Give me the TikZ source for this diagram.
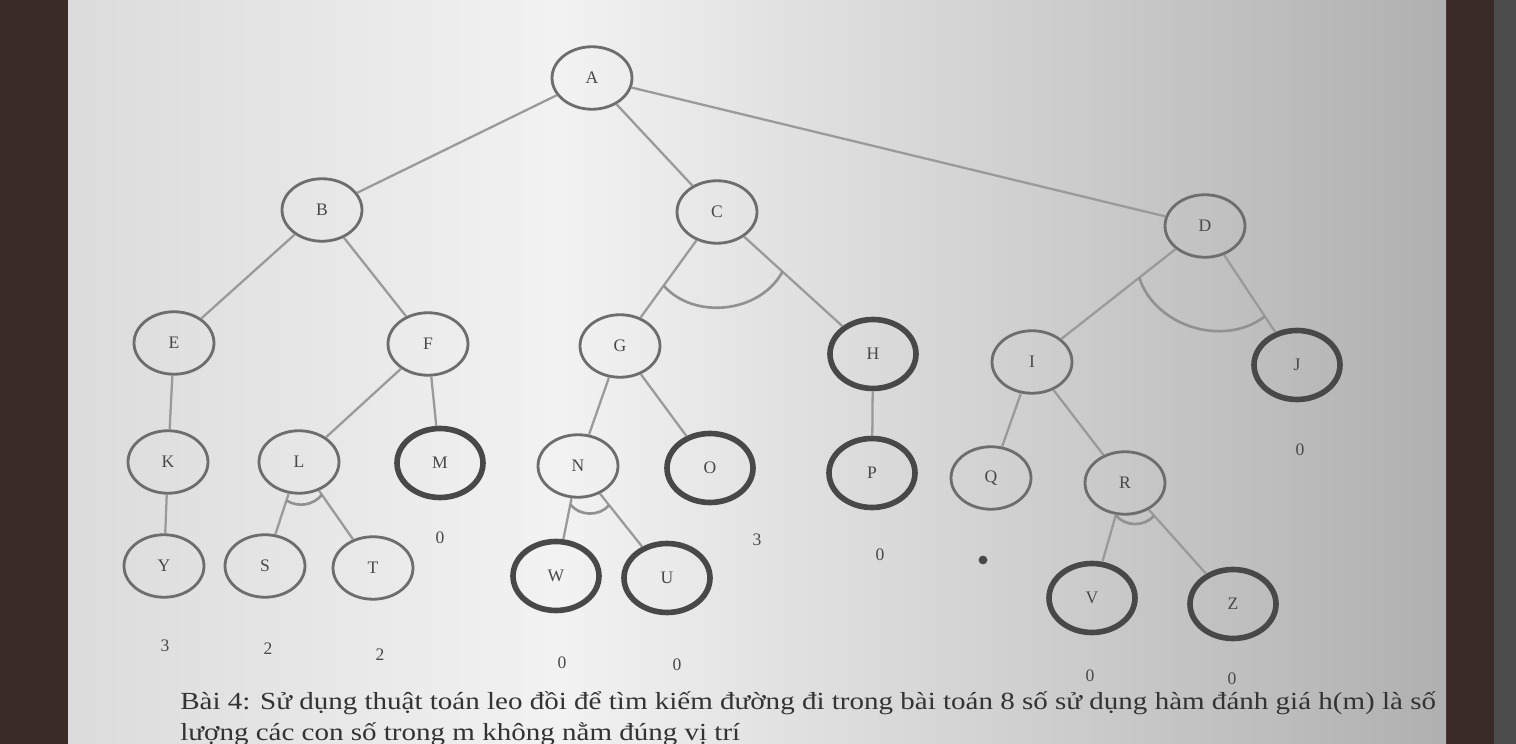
\documentclass[tikz,border=0pt]{standalone}
\usepackage{fontspec}
\setmainfont{Liberation Serif}
\newfontfamily\capfont[FakeStretch=1.18]{Liberation Serif}
\usetikzlibrary{calc,shapes.geometric}
\definecolor{ink}{HTML}{484848}
\definecolor{wood}{HTML}{3A2B26}
\begin{document}
\begin{tikzpicture}[x=0.02cm, y=0.02cm,
    state/.style={ellipse, draw=ink!80, line width=1.6pt, minimum width=1.6cm,
      minimum height=1.25cm, inner sep=0pt, text=ink, font=\normalsize},
    goal/.style={state, draw=ink, line width=3.2pt, minimum width=1.72cm,
      minimum height=1.38cm},
    link/.style={draw=ink!55, line width=1.3pt},
    andarc/.style={draw=ink!60, line width=1.5pt},
    hval/.style={text=ink, font=\normalsize},
    caption/.style={anchor=base west, inner sep=0pt,
      text=black!80, font=\capfont\fontsize{14}{16}\selectfont}]
  % photo background
  \useasboundingbox (0,0) rectangle (1516,744);
  \clip (0,0) rectangle (1516,744);
  \fill[wood] (0,0) rectangle (1516,744);
  \shade[left color=gray!28, right color=gray!10] (68,0) rectangle (560,744);
  \shade[left color=gray!10, right color=gray!62] (560,0) rectangle (1446,744);
  \fill[gray!60!black] (1494,0) rectangle (1516,744);
  % nodes
  \node[state] (A) at (592,666) {A};
  \node[state] (B) at (322,534) {B};
  \node[state] (C) at (717,532) {C};
  \node[state] (D) at (1205,518) {D};
  \node[state] (E) at (174,401) {E};
  \node[state] (F) at (428,400) {F};
  \node[state] (G) at (620,398) {G};
  \node[goal]  (H) at (873,390) {H};
  \node[state] (I) at (1032,382) {I};
  \node[goal]  (J) at (1297,379) {J};
  \node[state] (K) at (168,282) {K};
  \node[state] (L) at (299,282) {L};
  \node[goal]  (M) at (440,281) {M};
  \node[state] (N) at (578,278) {N};
  \node[goal]  (O) at (710,276) {O};
  \node[goal]  (P) at (872,271) {P};
  \node[state] (Q) at (991,266) {Q};
  \node[state] (R) at (1125,261) {R};
  \node[state] (Y) at (164,178) {Y};
  \node[state] (S) at (265,178) {S};
  \node[state] (T) at (373,176) {T};
  \node[goal]  (W) at (556,168) {W};
  \node[goal]  (U) at (667,166) {U};
  \node[goal]  (V) at (1092,146) {V};
  \node[goal]  (Z) at (1233,140) {Z};
  % links
  \foreach \p/\c in {A/B, A/C, A/D, B/E, B/F, C/G, C/H, D/I, D/J, E/K, F/L,
      F/M, G/N, G/O, H/P, I/Q, I/R, K/Y, L/S, L/T, N/W, N/U, R/V, R/Z}
    \draw[link] (\p) -- (\c);
  % and-arcs
  \draw[andarc] ($(C)!0.55!(G)$) to[bend right=55] ($(C)!0.42!(H)$);
  \draw[andarc] ($(D)!0.38!(I)$) to[bend right=55] ($(D)!0.65!(J)$);
  \draw[andarc] ($(L)!0.37!(S)$) to[bend right=40] ($(L)!0.31!(T)$);
  \draw[andarc] ($(N)!0.35!(W)$) to[bend right=50] ($(N)!0.35!(U)$);
  \draw[andarc] ($(R)!0.28!(V)$) to[bend right=50] ($(R)!0.27!(Z)$);
  % heuristic values
  \node[hval] (hY) at (165,98) {3};
  \node[hval] (hS) at (268,95) {2};
  \node[hval] (hT) at (380,89) {2};
  \node[hval] (hM) at (440,206) {0};
  \node[hval] (hW) at (562,81) {0};
  \node[hval] (hU) at (677,79) {0};
  \node[hval] (hO) at (757,204) {3};
  \node[hval] (hP) at (880,189) {0};
  \node[circle, fill=ink, inner sep=0pt, minimum size=5pt] (hQ) at (983,184) {};
  \node[hval] (hJ) at (1300,294) {0};
  \node[hval] (hV) at (1090,68) {0};
  \node[hval] (hZ) at (1232,65) {0};
  % caption
  \node[caption] (cap1) at (180,34)
    {Bài 4: Sử dụng thuật toán leo đồi để tìm kiếm đường đi trong bài toán 8 số sử dụng hàm đánh giá h(m) là số};
  \node[caption] (cap2) at (180,3)
    {lượng các con số trong m không nằm đúng vị trí};
\end{tikzpicture}
\end{document}
